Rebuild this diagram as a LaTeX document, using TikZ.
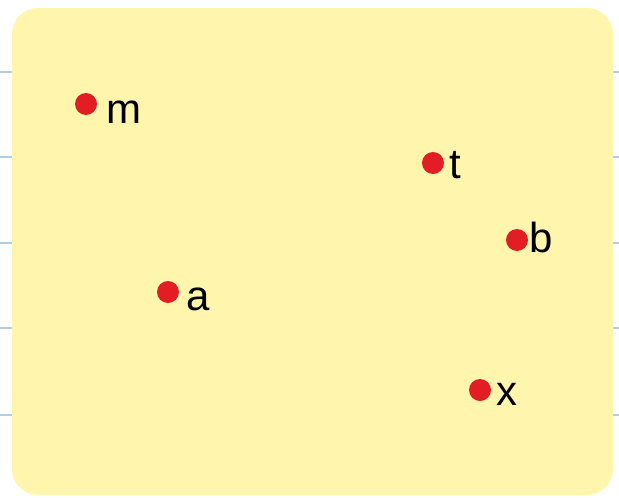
\documentclass[tikz,border=0pt]{standalone}
\usepackage{fontspec}
\setmainfont{Liberation Sans}
\usetikzlibrary{positioning,calc}
\definecolor{padyellow}{RGB}{255,245,172}
\definecolor{dotred}{RGB}{226,30,36}
\definecolor{ruleblue}{RGB}{175,205,230}
\begin{document}
\begin{tikzpicture}[x=1pt, y=-1pt,
    every node/.style={font=\fontsize{42}{48}\selectfont},
    pt/.style={circle, fill=dotred, minimum size=22pt, inner sep=0pt},
    lbl/.style={anchor=base west, inner sep=0pt}]
        \useasboundingbox (0,0) rectangle (619,498);
        \fill[white] (0,0) rectangle (619,498);
        \foreach \y in {72,157,243,328,415}
            \draw[ruleblue, line width=1.2pt] (0,\y) -- (619,\y);
        \fill[padyellow, rounded corners=26pt] (12,8) rectangle (613,495);
        \node[pt] (m) at (86,104) {};
        \node[pt] (t) at (433,163) {};
        \node[pt] (b) at (517,240) {};
        \node[pt] (a) at (168,292) {};
        \node[pt] (x) at (480,390) {};
        \node[lbl] (mlabel) at ($(m)+(20,19)$) {m};
        \node[lbl] (tlabel) at ($(t)+(16,15)$) {t};
        \node[lbl] (blabel) at ($(b)+(12,12)$) {b};
        \node[lbl] (alabel) at ($(a)+(18,18)$) {a};
        \node[lbl] (xlabel) at ($(x)+(16,15)$) {x};
    \end{tikzpicture}
\end{document}
